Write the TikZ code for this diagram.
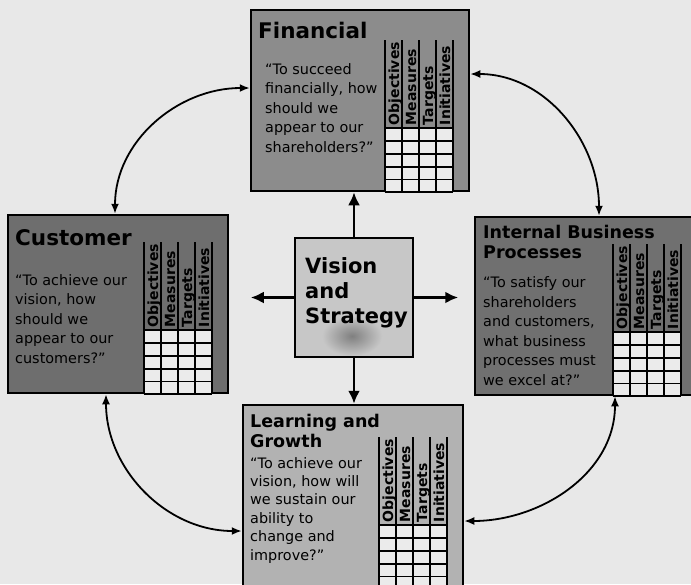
\documentclass[tikz,border=0pt]{standalone}
\usepackage{fontspec}
\setmainfont{DejaVu Sans}
\usetikzlibrary{arrows.meta}

\definecolor{paper}{gray}{0.91}
\definecolor{fingray}{gray}{0.55}
\definecolor{custgray}{gray}{0.43}
\definecolor{ibpgray}{gray}{0.44}
\definecolor{learngray}{gray}{0.70}
\definecolor{visgray}{gray}{0.78}
\definecolor{cellgray}{gray}{0.92}

% objectives / measures / targets / initiatives table in the corner of a box
\newcommand{\scoretable}[1]{%
  \begin{scope}[shift={([xshift=-85pt]#1.south east)}]
    \fill[cellgray] (0,0) rectangle (68,-64);
    \foreach \row in {0,...,5}
      \draw[grid] (0,-\row*12.8) -- (68,-\row*12.8);
    \foreach \col in {0,...,4}
      \draw[grid] (\col*17,0) -- (\col*17,-152);
    \foreach \head [count=\col from 0] in {Objectives,Measures,Targets,Initiatives}
      \node[colhead] (#1-h\col) at (\col*17+13.8,-67) {\head};
  \end{scope}}

\begin{document}
\begin{tikzpicture}[x=1pt, y=-1pt,
    box/.style={draw, rectangle, line width=2.5pt, inner sep=0},
    grid/.style={line width=1.8pt},
    colhead/.style={rotate=90, anchor=base west, inner sep=0,
      font=\bfseries\fontsize{14}{14}\selectfont},
    title/.style={anchor=base west, inner sep=0, align=left,
      font=\bfseries\fontsize{21.5}{24}\selectfont},
    subtitle/.style={title, font=\bfseries\fontsize{17.5}{20}\selectfont},
    quote/.style={anchor=base west, inner sep=0, align=left,
      font=\fontsize{14.4}{19.5}\selectfont},
    push/.style={line width=2.8pt, -{Latex[length=13pt,width=12pt]}},
    cycle/.style={line width=1.8pt,
      {Latex[length=10pt,width=8pt]}-{Latex[length=10pt,width=8pt]}}]

    \useasboundingbox (0,0) rectangle (691,584);
    \fill[paper] (0,0) rectangle (691,584);

    \node[box, fill=fingray, minimum width=218pt, minimum height=181pt] (fin) at (360,100.5) {};
    \node[box, fill=custgray, minimum width=220pt, minimum height=178pt] (cust) at (118,304) {};
    \node[box, fill=ibpgray, minimum width=222pt, minimum height=178pt] (ibp) at (586,306) {};
    \node[box, fill=learngray, minimum width=220pt, minimum height=183pt] (learn) at (353,496.5) {};
    \node[box, fill=visgray, minimum width=118pt, minimum height=119pt] (vis) at (354,297.5) {};
    \shade[inner color=black!50, outer color=visgray] (352,336) ellipse (30pt and 20pt);

    \scoretable{fin}
    \scoretable{cust}
    \scoretable{ibp}
    \scoretable{learn}

    % multi-line nodes sit on the baseline of their last line
    \node[title] (fin-t) at (258,38) {Financial};
    \node[quote] (fin-q) at (265,152) {“To succeed\\financially, how\\should we\\appear to our\\shareholders?”};

    \node[title] (cust-t) at (15,245) {Customer};
    \node[quote] (cust-q) at (15,363) {“To achieve our\\vision, how\\should we\\appear to our\\customers?”};

    \node[subtitle] (ibp-t) at (483,258) {Internal Business\\Processes};
    \node[quote] (ibp-q) at (483,385) {“To satisfy our\\shareholders\\and customers,\\what business\\processes must\\we excel at?”};

    \node[subtitle] (learn-t) at (250,447) {Learning and\\Growth};
    \node[quote, font=\fontsize{14.4}{18.4}\selectfont] (learn-q) at (250,560)
      {“To achieve our\\vision, how will\\we sustain our\\ability to\\change and\\improve?”};

    \node[title, font=\bfseries\fontsize{21}{25}\selectfont] (vis-t) at (305,323) {Vision\\and\\Strategy};

    \coordinate (vis-l) at ([xshift=-43pt]vis.west);
    \coordinate (vis-r) at ([xshift=44pt]vis.east);
    \draw[push] (vis.north) -- (vis.north |- fin.south);
    \draw[push] (vis.south) -- (vis.south |- learn.north);
    \draw[push] (vis.west) -- (vis-l);
    \draw[push] (vis.east) -- (vis-r);

    \coordinate (fin-w) at (fin.west |- 0,88);
    \coordinate (fin-e) at (fin.east |- 0,74);
    \coordinate (cust-n) at (cust.north -| 115,0);
    \coordinate (cust-s) at (cust.south -| 106,0);
    \coordinate (ibp-n) at (ibp.north -| 599,0);
    \coordinate (ibp-s) at (ibp.south -| 615,0);
    \coordinate (learn-w) at (learn.west |- 0,531);
    \coordinate (learn-e) at (learn.east |- 0,521);

    \draw[cycle] (fin-w) to[out=180, in=90] (cust-n);
    \draw[cycle] (fin-e) to[out=0, in=90] (ibp-n);
    \draw[cycle] (cust-s) to[out=270, in=180] (learn-w);
    \draw[cycle] (ibp-s) to[out=270, in=0] (learn-e);

\end{tikzpicture}
\end{document}
